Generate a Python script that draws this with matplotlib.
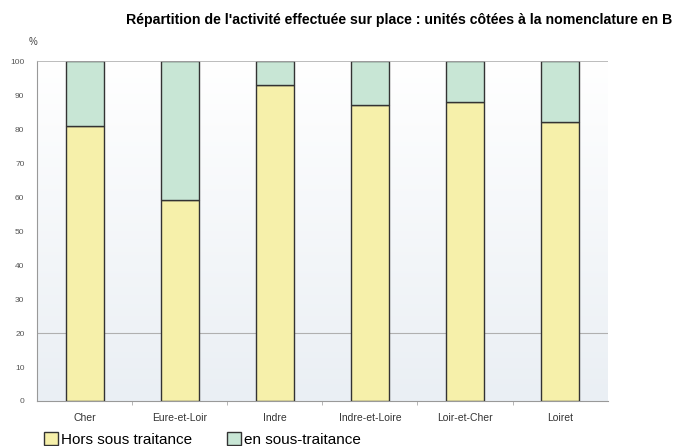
import numpy as np
import matplotlib.pyplot as plt

plt.rcParams['font.family'] = ['Liberation Sans', 'DejaVu Sans']

# données (%)
departements = ['Cher', 'Eure-et-Loir', 'Indre', 'Indre-et-Loire', 'Loir-et-Cher', 'Loiret']
hors_sous_traitance = [81, 59, 93, 87, 88, 82]
en_sous_traitance = [100 - v for v in hors_sous_traitance]
yticks = [0, 10, 20, 30, 40, 50, 60, 70, 80, 90, 100]

col_hors = '#f6f0aa'
col_en = '#c8e6d5'

fig = plt.figure(figsize=(6.76, 4.46), dpi=100)
ax = fig.add_axes([0.0547, 0.1009, 0.8443, 0.7623])

# fond en dégradé blanc -> gris bleuté
grad = np.linspace(0, 1, 256).reshape(-1, 1)
ax.imshow(grad, extent=[-0.5, 5.5, 0, 100], aspect='auto', origin='upper',
          cmap=plt.matplotlib.colors.LinearSegmentedColormap.from_list('bg', ['#ffffff', '#eaeff4']),
          zorder=0)

x = np.arange(len(departements))
ax.bar(x, hors_sous_traitance, width=0.4, color=col_hors, edgecolor='#333333',
       linewidth=1, label='Hors sous traitance', zorder=3)
ax.bar(x, en_sous_traitance, width=0.4, bottom=hors_sous_traitance, color=col_en,
       edgecolor='#333333', linewidth=1, label='en sous-traitance', zorder=3)

ax.axhline(20, color='#b0b0b0', linewidth=0.8, zorder=1)
ax.axhline(100, color='#b0b0b0', linewidth=1.2, zorder=4)

ax.set_xlim(-0.5, 5.5)
ax.set_ylim(0, 100)
ax.set_yticks(yticks)
ax.set_yticklabels([str(t) for t in yticks], fontsize=6, color='#555555')
ax.set_xticks(x)
ax.set_xticklabels(departements, fontsize=7.5, color='#333333')
ax.set_xticks(np.arange(0.5, 5.5, 1), minor=True)
ax.tick_params(axis='x', which='major', length=0, pad=9)
ax.tick_params(axis='x', which='minor', length=3, color='#aaaaaa')
ax.tick_params(axis='y', length=0, pad=9)

for side in ['top', 'right']:
    ax.spines[side].set_visible(False)
ax.spines['left'].set_color('#999999')
ax.spines['bottom'].set_color('#999999')

fig.text(0.049, 0.9, '%', fontsize=7, color='#444444', ha='center')
fig.text(0.995, 0.955, "Répartition de l'activité effectuée sur place : unités côtées à la nomenclature en B",
         fontsize=10.2, fontweight='bold', ha='right', va='center')

fig.legend(loc='lower left', bbox_to_anchor=(0.045, -0.032), ncol=2, frameon=False,
           fontsize=11, handlelength=0.9, handleheight=0.9, handletextpad=0.2,
           columnspacing=2.3)

fig.savefig('out.png', dpi=100)
